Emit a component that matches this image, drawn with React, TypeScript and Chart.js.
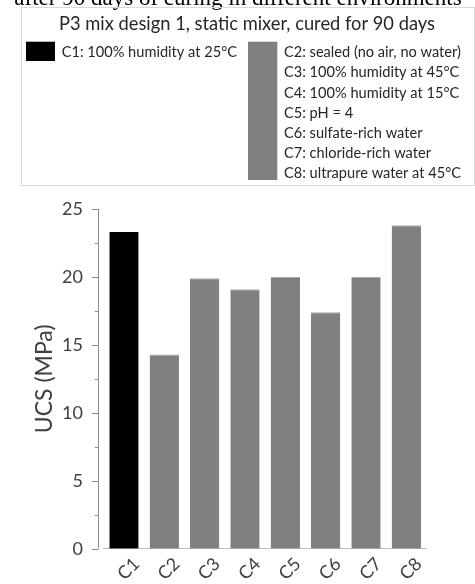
import React, { useEffect, useRef } from "react";
import { Chart, registerables } from "chart.js";

Chart.register(...registerables);

const categories = ["C1", "C2", "C3", "C4", "C5", "C6", "C7", "C8"];
const ucsValues = [23.3, 14.3, 19.9, 19.1, 20.0, 17.4, 20.0, 23.8];
const barColors = ["#000000", "#808080", "#808080", "#808080", "#808080", "#808080", "#808080", "#808080"];
const barBorders = ["#000000", "#a6a6a6", "#a6a6a6", "#a6a6a6", "#a6a6a6", "#a6a6a6", "#a6a6a6", "#a6a6a6"];
const yMin = 0;
const yMax = 25;
const yStep = 5;
const yMinorStep = 2.5;
const pageTitle = "after 90 days of curing in different environments";
const legendTitle = "P3 mix design 1, static mixer, cured for 90 days";
const legendLeftLabels = ["C1: 100% humidity at 25°C"];
const legendRightLabels = [
  "C2: sealed (no air, no water)",
  "C3: 100% humidity at 45°C",
  "C4: 100% humidity at 15°C",
  "C5: pH = 4",
  "C6: sulfate-rich water",
  "C7: chloride-rich water",
  "C8: ultrapure water at 45°C",
];
const yAxisTitle = "UCS (MPa)";

const SANS = "Lato, 'Open Sans', sans-serif";

const decorPlugin = {
  id: "decor",
  afterDraw(chart: any) {
    const ctx = chart.ctx as CanvasRenderingContext2D;
    const area = chart.chartArea;
    const y = chart.scales.y;
    const x = chart.scales.x;
    ctx.save();

    // page title (serif, partially cut at top)
    ctx.fillStyle = "#000000";
    ctx.font = "23px 'Liberation Serif', 'Times New Roman', serif";
    ctx.textAlign = "center";
    ctx.textBaseline = "alphabetic";
    ctx.fillText(pageTitle, 238, 4.5);

    // legend box
    ctx.strokeStyle = "#d9d9d9";
    ctx.lineWidth = 1;
    ctx.strokeRect(21.5, 7.5, 453, 178);

    ctx.fillStyle = "#262626";
    ctx.font = `400 18.3px ${SANS}`;
    ctx.textAlign = "center";
    ctx.fillText(legendTitle, 247, 30);

    ctx.fillStyle = barColors[0];
    ctx.fillRect(26, 41.7, 29, 19.3);
    ctx.fillStyle = barColors[1];
    ctx.fillRect(248, 41.7, 29.3, 138.3);

    ctx.fillStyle = "#262626";
    ctx.font = `400 14.6px ${SANS}`;
    ctx.textAlign = "left";
    legendLeftLabels.forEach((t, i) => ctx.fillText(t, 61.7, 57.3 + i * 20.1));
    legendRightLabels.forEach((t, i) => ctx.fillText(t, 284, 57.3 + i * 20.1));

    // y axis line and ticks
    const axisX = area.left - 5.3;
    ctx.strokeStyle = "#8c8c8c";
    ctx.lineWidth = 1;
    ctx.beginPath();
    ctx.moveTo(axisX, y.getPixelForValue(yMax));
    ctx.lineTo(axisX, y.getPixelForValue(yMin));
    for (let v = yMin; v <= yMax + 1e-9; v += yMinorStep) {
      const py = Math.round(y.getPixelForValue(v)) + 0.5;
      const major = Math.abs(v / yStep - Math.round(v / yStep)) < 1e-6;
      ctx.moveTo(axisX - (major ? 6.5 : 3.5), py);
      ctx.lineTo(axisX, py);
    }
    ctx.stroke();

    // y axis title
    ctx.save();
    ctx.translate(45, (area.top + area.bottom) / 2);
    ctx.rotate(-Math.PI / 2);
    ctx.fillStyle = "#404040";
    ctx.font = `400 23px ${SANS}`;
    ctx.textAlign = "center";
    ctx.textBaseline = "middle";
    ctx.fillText(yAxisTitle, 0, 0);
    ctx.restore();

    // x tick labels rotated
    ctx.fillStyle = "#404040";
    ctx.font = `400 18px ${SANS}`;
    ctx.textAlign = "center";
    ctx.textBaseline = "middle";
    (chart.data.labels as string[]).forEach((lab, i) => {
      const px = x.getPixelForTick(i);
      ctx.save();
      ctx.translate(px + 4.5, 569);
      ctx.rotate(-Math.PI / 4);
      ctx.fillText(lab, 0, 0);
      ctx.restore();
    });

    ctx.restore();
  },
};

export default function App() {
  const ref = useRef<HTMLCanvasElement>(null);

  useEffect(() => {
    if (!ref.current) return;
    const chart = new Chart(ref.current, {
      type: "bar",
      data: {
        labels: categories,
        datasets: [
          {
            data: ucsValues,
            backgroundColor: barColors,
            borderColor: barBorders,
            borderWidth: { top: 1, left: 0, right: 0, bottom: 0 },
            categoryPercentage: 1,
            barPercentage: 0.727,
          },
        ],
      },
      options: {
        animation: false,
        responsive: false,
        maintainAspectRatio: false,
        layout: { padding: { top: 209, right: 48.5, left: 0, bottom: 0 } },
        plugins: {
          legend: { display: false },
          tooltip: { enabled: false },
          title: { display: false },
        },
        scales: {
          x: {
            grid: { display: false, drawTicks: false },
            border: { display: true, color: "#bfbfbf", width: 1 },
            ticks: { display: false },
            afterFit: (s: any) => {
              s.height = 35.3;
            },
          },
          y: {
            min: yMin,
            max: yMax,
            ticks: {
              stepSize: yStep,
              padding: 20.8,
              color: "#404040",
              font: { family: SANS, size: 18, weight: "400" },
            },
            grid: { display: false, drawTicks: false },
            border: { display: false },
            afterFit: (s: any) => {
              s.width = 103.8;
            },
          },
        },
      },
      plugins: [decorPlugin],
    } as any);
    return () => chart.destroy();
  }, []);

  return (
    <div style={{ position: "fixed", left: 0, top: 0, width: 475, height: 584, background: "#ffffff" }}>
      <canvas ref={ref} width={475} height={584} style={{ display: "block", width: 475, height: 584 }} />
    </div>
  );
}
